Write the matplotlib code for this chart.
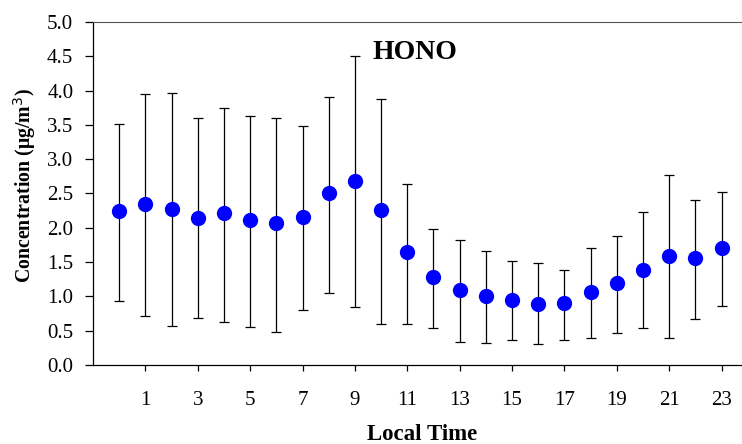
import numpy as np
import matplotlib.pyplot as plt

# hourly HONO concentration: mean with lower / upper ends of the error bars
hours = list(range(24))
hono_mean = [2.24, 2.35, 2.27, 2.14, 2.21, 2.11, 2.07, 2.16, 2.51, 2.68, 2.26, 1.64,
             1.28, 1.10, 1.01, 0.95, 0.89, 0.90, 1.06, 1.19, 1.38, 1.59, 1.56, 1.71]
hono_low = [0.93, 0.71, 0.57, 0.68, 0.63, 0.55, 0.48, 0.80, 1.05, 0.84, 0.59, 0.59,
            0.54, 0.34, 0.32, 0.36, 0.30, 0.36, 0.39, 0.47, 0.54, 0.39, 0.67, 0.86]
hono_high = [3.52, 3.95, 3.97, 3.60, 3.75, 3.63, 3.60, 3.48, 3.91, 4.50, 3.88, 2.64,
             1.98, 1.82, 1.66, 1.52, 1.49, 1.39, 1.70, 1.88, 2.23, 2.77, 2.41, 2.52]
xtick_pos = list(range(1, 24, 2))

plt.rcParams['font.family'] = ['Liberation Serif', 'DejaVu Serif']

fig = plt.figure(figsize=(7.42, 4.44), dpi=100)
ax = fig.add_axes([0.1253, 0.178, 0.8747, 0.7725])

mean = np.array(hono_mean)
yerr = [mean - np.array(hono_low), np.array(hono_high) - mean]
ax.errorbar(hours, mean, yerr=yerr, fmt='none', ecolor='black', elinewidth=0.9,
            capsize=3.3, capthick=0.9, zorder=2)
ax.plot(hours, mean, 'o', color='#0000ff', markersize=10, zorder=3)

ax.set_xlim(-1, 23.78)
ax.set_ylim(0, 5.0)
ax.set_yticks(np.arange(0, 5.01, 0.5))
ax.set_yticklabels([f'{v:.1f}' for v in np.arange(0, 5.01, 0.5)])
ax.set_xticks(xtick_pos)
ax.tick_params(axis='y', direction='out', length=5.8, width=0.9, pad=8.4, labelsize=15)
ax.tick_params(axis='x', direction='out', length=4.5, width=0.9, pad=14, labelsize=15)

ax.spines['right'].set_visible(False)
ax.spines['top'].set_color('#555555')
for s in ['left', 'bottom']:
    ax.spines[s].set_linewidth(0.9)

ax.set_xlabel('Local Time', fontsize=16.5, fontweight='bold', va='baseline')
ax.xaxis.set_label_coords(0.507, -0.2187)
ax.set_ylabel('Concentration (\u03bcg/m$^3$)', fontsize=14.3, fontweight='bold', va='center')
ax.yaxis.set_label_coords(-0.106, 0.523)
ax.text(9.66, 4.55, 'HONO', fontsize=20, fontweight='bold', ha='left', va='center')

fig.savefig('out.png', dpi=100)
